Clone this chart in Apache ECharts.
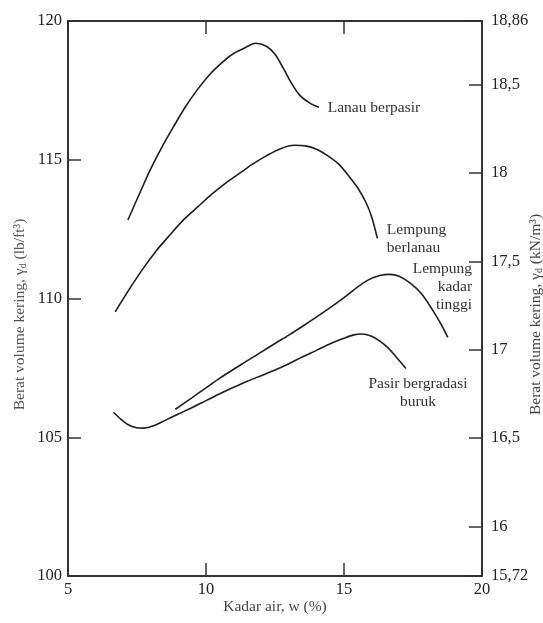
<!DOCTYPE html>
<html>
<head>
<meta charset="utf-8">
<script src="https://cdn.jsdelivr.net/npm/echarts@6/dist/echarts.min.js"></script>
<style>
  html, body { margin: 0; padding: 0; background: #fff; }
  #chart { width: 543px; height: 623px; }
</style>
</head>
<body>
<div id="chart"></div>
<script>
// tick labels
var xTicks = [5, 10, 15, 20];
var leftTicks = [100, 105, 110, 115, 120];
var rightTicks = [15.72, 16, 16.5, 17, 17.5, 18, 18.5, 18.86];

// curves (kadar air %, berat volume lb/ft3)
var lanauX = [7.17, 7.6, 8.0, 8.4, 8.83, 9.25, 9.67, 10.16, 10.6, 11.0, 11.4, 11.8, 12.2, 12.5, 12.8, 13.1, 13.4, 13.75, 14.09];
var lanauY = [112.83, 113.8, 114.68, 115.45, 116.2, 116.9, 117.5, 118.1, 118.52, 118.83, 119.03, 119.2, 119.08, 118.8, 118.3, 117.75, 117.32, 117.05, 116.89];

var berlanauX = [6.71, 7.2, 7.7, 8.2, 8.7, 9.2, 9.7, 10.2, 10.7, 11.2, 11.7, 12.2, 12.7, 13.2, 13.6, 14.0, 14.4, 14.8, 15.2, 15.5, 15.8, 16.0, 16.21];
var berlanauY = [109.52, 110.3, 111.05, 111.72, 112.3, 112.85, 113.3, 113.75, 114.15, 114.5, 114.85, 115.15, 115.4, 115.52, 115.5, 115.38, 115.15, 114.85, 114.38, 113.98, 113.45, 112.95, 112.17];

var kadarX = [8.89, 9.5, 10.0, 10.5, 11.0, 11.5, 12.0, 12.5, 13.0, 13.5, 14.0, 14.5, 15.0, 15.5, 15.9, 16.3, 16.65, 17.0, 17.4, 17.8, 18.2, 18.5, 18.76];
var kadarY = [106.01, 106.43, 106.78, 107.13, 107.45, 107.76, 108.07, 108.38, 108.68, 109.0, 109.33, 109.67, 110.03, 110.42, 110.68, 110.83, 110.87, 110.8, 110.55, 110.18, 109.6, 109.1, 108.6];

var pasirX = [6.65, 6.9, 7.15, 7.45, 7.75, 8.1, 8.5, 9.0, 9.5, 10.0, 10.5, 11.0, 11.5, 12.0, 12.5, 13.0, 13.5, 14.0, 14.5, 15.0, 15.35, 15.65, 15.95, 16.25, 16.6, 16.9, 17.24];
var pasirY = [105.90, 105.66, 105.47, 105.35, 105.33, 105.41, 105.6, 105.84, 106.07, 106.32, 106.57, 106.8, 107.02, 107.22, 107.42, 107.65, 107.9, 108.13, 108.37, 108.57, 108.69, 108.72, 108.66, 108.5, 108.22, 107.88, 107.48];

var FONT = 'Liberation Serif';

function pairs(xs, ys) {
	var out = [];
	for (var i = 0; i < xs.length; i++) out.push([xs[i], ys[i]]);
	return out;
}

function curve(name, xs, ys, labelCoord, align) {
	return {
		name: name,
		type: 'line',
		xAxisIndex: 0,
		yAxisIndex: 0,
		data: pairs(xs, ys),
		smooth: 0.3,
		symbol: 'none',
		lineStyle: { color: '#1e1e1e', width: 1.6 },
		silent: true,
		markPoint: {
			symbol: 'circle',
			symbolSize: 0,
			silent: true,
			data: [{ coord: labelCoord, value: name }],
			label: {
				show: true,
				position: 'inside',
				formatter: name,
				align: align,
				verticalAlign: 'middle',
				fontFamily: FONT,
				fontSize: 15.5,
				lineHeight: 18,
				color: '#333'
			}
		}
	};
}

var myChart = echarts.init(document.getElementById('chart'));

var axisLine = { show: true, lineStyle: { color: '#333', width: 2 } };
var tick = { show: true, inside: true, length: 13, lineStyle: { color: '#333', width: 1.5 } };

myChart.setOption({
	animation: false,
	backgroundColor: '#fff',
	grid: { left: 68, right: 61, top: 21, bottom: 47, containLabel: false, outerBoundsMode: 'none' },
	xAxis: [
		{
			type: 'value',
			position: 'bottom',
			min: 5, max: 20, interval: 5,
			name: 'Kadar air, w (%)',
			nameLocation: 'middle',
			nameGap: 23,
			nameMoveOverlap: false,
			nameTextStyle: { fontFamily: FONT, fontSize: 15.5, color: '#444' },
			axisLine: axisLine,
			axisTick: tick,
			splitLine: { show: false },
			axisLabel: {
				fontFamily: FONT, fontSize: 16.5, color: '#222', margin: 5,
				customValues: xTicks
			}
		},
		{
			type: 'value',
			position: 'top',
			min: 5, max: 20, interval: 5,
			axisLine: axisLine,
			axisTick: tick,
			splitLine: { show: false },
			axisLabel: { show: false }
		}
	],
	yAxis: [
		{
			type: 'value',
			position: 'left',
			min: 100, max: 120, interval: 5,
			name: 'Berat volume kering, γ{sub|d} (lb/ft³)',
			nameLocation: 'middle',
			nameRotate: 90,
			nameGap: 40,
			nameMoveOverlap: false,
			nameTextStyle: {
				fontFamily: FONT, fontSize: 15.5, color: '#555',
				padding: [0, 32, 0, 0],
				rich: { sub: { fontFamily: FONT, fontSize: 10, color: '#555', padding: [7, 0, 0, 0] } }
			},
			axisLine: axisLine,
			axisTick: tick,
			splitLine: { show: false },
			axisLabel: {
				fontFamily: FONT, fontSize: 16.5, color: '#222', margin: 6,
				customValues: leftTicks
			}
		},
		{
			type: 'value',
			position: 'right',
			min: 15.72, max: 18.86,
			name: 'Berat volume kering, γ{sub|d} (kN/m³)',
			nameLocation: 'middle',
			nameRotate: 90,
			nameGap: 45,
			nameMoveOverlap: false,
			nameTextStyle: {
				fontFamily: FONT, fontSize: 15.5, color: '#444',
				padding: [0, 32, 0, 0],
				rich: { sub: { fontFamily: FONT, fontSize: 10, color: '#444', padding: [7, 0, 0, 0] } }
			},
			axisLine: axisLine,
			axisTick: {
				show: true, inside: true, length: 13,
				lineStyle: { color: '#333', width: 1.5 },
				customValues: rightTicks
			},
			splitLine: { show: false },
			axisLabel: {
				fontFamily: FONT, fontSize: 16.5, color: '#222', margin: 9,
				customValues: rightTicks,
				formatter: function (v) { return String(v).replace('.', ','); }
			}
		}
	],
	series: [
		curve('Lanau berpasir', lanauX, lanauY, [14.41, 116.86], 'left'),
		curve('Lempung\nberlanau', berlanauX, berlanauY, [16.55, 112.14], 'left'),
		curve('Lempung\nkadar\ntinggi', kadarX, kadarY, [19.64, 110.40], 'right'),
		curve('Pasir bergradasi\nburuk', pasirX, pasirY, [17.68, 106.58], 'center')
	]
});
</script>
</body>
</html>
